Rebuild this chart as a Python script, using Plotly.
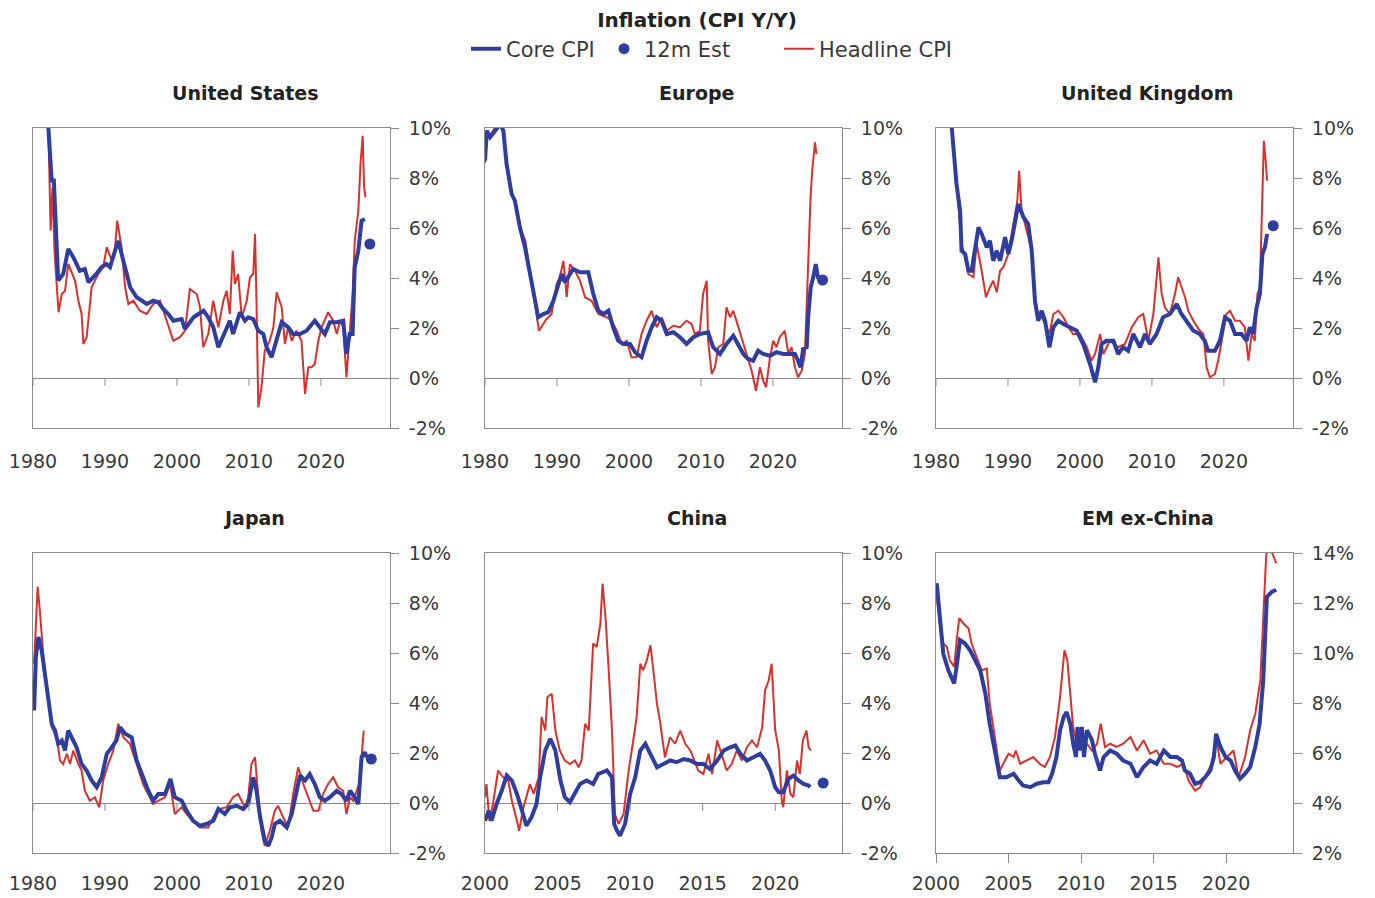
import plotly.graph_objects as go
from plotly.subplots import make_subplots

BLUE = "#2f3e9e"
RED = "#d8312c"
FRAME = "#8c8c8c"
TEXT = "#3a3a3a"
FONT = "DejaVu Sans"

# --- United States -------------------------------------------------------
us_core_x = [1981.7, 1982.3, 1982.6, 1982.9, 1983.3, 1983.5, 1984.2, 1984.9, 1985.6, 1986.5, 1987.2, 1987.7,
             1988.8, 1989.5, 1990.2, 1990.7, 1991.4, 1991.85, 1992.55, 1993.5, 1994.4, 1995.1, 1995.8, 1996.7,
             1997.4, 1998.1, 1998.8, 1999.5, 2000.65, 2001.1, 2001.6, 2002.3, 2003.0, 2003.7, 2004.35, 2005.05,
             2005.75, 2006.45, 2006.9, 2007.35, 2007.8, 2008.3, 2008.75, 2009.45, 2009.9, 2010.6, 2011.3,
             2012.0, 2012.45, 2013.15, 2013.85, 2014.55, 2015.45, 2016.15, 2017.1, 2018.0, 2019.15, 2019.85,
             2020.55, 2021.25, 2022.2, 2023.1, 2023.55, 2024.0, 2024.4, 2024.7, 2025.2, 2025.65, 2026.1]
us_core_y = [12.0, 9.0, 7.9, 7.9, 5.0, 3.9, 4.16, 5.16, 4.83, 4.29, 4.36, 3.83,
             4.16, 4.43, 4.56, 4.43, 5.09, 5.49, 4.69, 3.63, 3.23, 3.09, 2.96, 3.09,
             3.03, 2.76, 2.56, 2.29, 2.36, 1.96, 2.16, 2.43, 2.56, 2.69, 2.43, 2.03,
             1.23, 1.69, 2.03, 2.29, 1.76, 2.23, 2.63, 2.29, 2.43, 2.36, 1.89,
             1.76, 1.23, 0.83, 1.49, 2.23, 2.03, 1.76, 1.76, 1.89, 2.29, 2.03,
             1.76, 2.23, 2.23, 2.29, 0.96, 1.76, 1.76, 4.43, 5.09, 6.29, 6.36]
us_head_x = [1981.7, 1982.1, 1982.45, 1982.7, 1983.0, 1983.55, 1984.0, 1984.45, 1984.9, 1985.85, 1986.3, 1986.75,
             1987.0, 1987.45, 1988.15, 1989.05, 1989.75, 1990.25, 1990.95, 1991.4, 1991.7, 1992.3, 1992.8,
             1993.25, 1993.95, 1994.85, 1995.8, 1996.7, 1997.65, 1998.55, 1999.5, 2000.4, 2001.1, 2001.8,
             2002.75, 2003.2, 2003.65, 2004.35, 2005.05, 2005.75, 2006.45, 2006.9, 2007.35, 2007.75, 2008.05,
             2008.5, 2009.0, 2009.7, 2010.15, 2010.6, 2010.85, 2011.05, 2011.3, 2011.75, 2012.2, 2012.9,
             2013.4, 2013.85, 2014.55, 2015.0, 2015.45, 2015.95, 2016.6, 2017.3, 2017.8, 2018.25, 2018.7,
             2019.15, 2019.65, 2020.1, 2021.0, 2021.7, 2022.2, 2022.65, 2023.1, 2023.55, 2023.95, 2024.4,
             2024.7, 2025.2, 2025.5, 2025.8, 2026.0, 2026.2]
us_head_y = [12.0, 10.5, 5.9, 7.6, 5.0, 2.63, 3.36, 3.49, 4.56, 3.89, 3.09, 2.56,
             1.36, 1.63, 3.63, 4.16, 4.43, 5.23, 4.69, 5.23, 6.29, 5.23, 3.63,
             2.96, 3.09, 2.69, 2.56, 2.96, 3.09, 2.29, 1.49, 1.63, 1.89, 3.56,
             3.36, 2.83, 1.23, 1.76, 3.09, 2.03, 3.09, 3.49, 2.56, 5.09, 3.76,
             4.16, 2.43, 3.09, 4.03, 4.16, 5.76, 3.09, -1.17, -0.37, 1.09, 1.49,
             2.03, 3.43, 2.83, 1.36, 2.03, 1.49, 1.89, 1.49, -0.64, 0.43, 0.43,
             0.56, 1.49, 2.03, 2.63, 2.29, 1.76, 2.29, 2.03, 0.03, 1.76, 3.36,
             5.49, 6.69, 8.56, 9.69, 7.63, 7.23]
us_est_x = [2026.8]
us_est_y = [5.36]

# --- Europe --------------------------------------------------------------
eu_core_x = [1980.0, 1980.25, 1980.7, 1981.15, 1981.6, 1982.1, 1982.55, 1983.0, 1983.7, 1984.15, 1984.85, 1985.55,
             1986.25, 1986.95, 1987.4, 1988.1, 1988.8, 1989.5, 1990.2, 1990.65, 1991.1, 1991.8, 1992.25, 1993.2,
             1994.35, 1995.05, 1995.75, 1996.45, 1997.15, 1997.8, 1998.5, 1999.2, 2000.15, 2000.85, 2001.75,
             2002.45, 2003.15, 2003.85, 2004.55, 2005.25, 2006.15, 2007.1, 2008.0, 2008.95, 2009.85, 2011.0,
             2011.7, 2012.65, 2013.55, 2014.5, 2015.2, 2015.9, 2016.55, 2017.25, 2017.95, 2018.65, 2019.6,
             2020.5, 2021.45, 2022.35, 2023.05, 2023.5, 2023.85, 2024.2, 2024.7, 2024.9, 2025.25, 2025.6,
             2025.95, 2026.3]
eu_core_y = [8.69, 9.89, 9.63, 9.83, 9.96, 10.16, 9.89, 8.56, 7.36, 7.09, 6.03, 5.23,
             4.16, 3.09, 2.43, 2.56, 2.63, 3.09, 3.76, 4.16, 3.83, 4.16, 4.36, 4.23,
             4.23, 3.36, 2.69, 2.56, 2.69, 2.03, 1.49, 1.36, 1.36, 1.03, 0.83,
             1.49, 2.03, 2.43, 2.29, 1.76, 1.83, 1.63, 1.36, 1.63, 1.76, 1.83,
             1.23, 0.96, 1.36, 1.69, 1.36, 0.96, 0.76, 0.69, 1.09, 0.96, 0.89,
             1.03, 0.96, 0.96, 0.96, 0.69, 0.43, 1.16, 1.23, 2.43, 3.63, 4.03,
             4.56, 3.96]
eu_head_x = [1980.0, 1980.2, 1980.7, 1981.2, 1981.6, 1982.1, 1982.5, 1983.0, 1983.7, 1984.2, 1984.9, 1985.6,
             1986.3, 1986.9, 1987.5, 1988.55, 1989.25, 1989.95, 1990.4, 1990.9, 1991.35, 1991.8, 1992.5,
             1993.2, 1993.9, 1994.8, 1995.75, 1996.9, 1997.6, 1998.3, 1999.0, 1999.7, 2000.35, 2001.05,
             2001.75, 2002.45, 2003.15, 2003.85, 2004.55, 2005.25, 2006.15, 2007.1, 2008.0, 2008.7, 2009.15,
             2009.85, 2010.3, 2010.8, 2011.0, 2011.5, 2011.95, 2012.4, 2013.1, 2013.55, 2014.05, 2014.5,
             2015.2, 2015.65, 2016.35, 2017.05, 2017.65, 2018.2, 2018.65, 2019.05, 2019.6, 2020.05, 2020.5,
             2020.95, 2021.65, 2022.15, 2022.6, 2023.05, 2023.5, 2024.0, 2024.45, 2024.9, 2025.25, 2025.5,
             2025.85, 2026.05]
eu_head_y = [8.6, 9.9, 9.7, 9.9, 10.1, 10.2, 9.8, 8.6, 7.4, 7.1, 6.0, 5.5,
             4.2, 3.0, 1.89, 2.36, 2.56, 3.76, 4.03, 4.69, 3.23, 4.56, 4.29,
             3.89, 3.23, 3.09, 2.56, 2.43, 2.29, 1.89, 1.36, 1.49, 0.83, 0.83,
             1.76, 2.29, 2.69, 2.03, 2.43, 1.89, 2.09, 2.03, 2.29, 2.16, 1.76,
             1.89, 3.36, 3.89, 1.49, 0.16, 0.43, 1.23, 1.36, 2.83, 2.43, 2.69,
             2.03, 1.63, 0.96, 0.29, -0.51, 0.43, -0.11, -0.37, 0.83, 1.49, 1.23,
             1.63, 1.89, 0.96, 1.23, 0.43, 0.03, 0.29, 0.96, 4.69, 7.36, 8.43,
             9.43, 8.96]
eu_est_x = [2026.9]
eu_est_y = [3.92]

# --- United Kingdom ------------------------------------------------------
uk_core_x = [1981.9, 1982.2, 1982.4, 1982.85, 1983.35, 1983.55, 1984.05, 1984.5, 1984.95, 1985.4, 1985.9, 1986.35,
             1987.05, 1987.5, 1987.95, 1988.45, 1988.9, 1989.6, 1990.05, 1990.5, 1990.95, 1991.45, 1992.15,
             1992.8, 1993.3, 1993.75, 1994.2, 1994.7, 1995.15, 1995.75, 1996.3, 1997.0, 1997.7, 1998.6, 1999.55,
             2000.45, 2001.4, 2002.1, 2002.55, 2003.0, 2003.7, 2004.65, 2005.3, 2006.0, 2006.7, 2007.4, 2008.35,
             2009.05, 2009.7, 2010.65, 2011.55, 2012.5, 2013.45, 2014.1, 2014.8, 2015.75, 2016.65, 2017.35,
             2017.8, 2018.75, 2019.45, 2020.15, 2020.85, 2021.55, 2022.45, 2023.15, 2023.6, 2024.05, 2024.55,
             2025.0, 2025.35, 2025.7, 2026.0]
uk_core_y = [11.0, 9.97, 8.96, 7.76, 6.69, 5.09, 4.96, 4.29, 4.29, 5.09, 6.03, 5.76,
             5.23, 5.49, 4.69, 5.09, 4.69, 5.63, 4.96, 5.49, 6.16, 6.96, 6.43,
             6.16, 5.09, 3.09, 2.29, 2.69, 2.29, 1.23, 2.03, 2.29, 2.16, 2.03, 1.89,
             1.36, 0.56, -0.17, 0.43, 1.36, 1.49, 1.49, 0.96, 1.23, 1.09, 1.76, 1.23,
             1.76, 1.36, 1.76, 2.43, 2.56, 2.96, 2.56, 2.29, 1.89, 1.76, 1.49,
             1.09, 1.09, 1.49, 2.43, 2.29, 1.76, 1.76, 1.49, 2.03, 1.76, 2.83,
             3.36, 4.96, 5.23, 5.76]
uk_head_x = [1981.9, 1982.2, 1982.4, 1982.85, 1983.55, 1984.05, 1984.5, 1985.2, 1985.65, 1986.35, 1986.95, 1987.5,
             1987.95, 1988.45, 1988.9, 1989.35, 1990.05, 1990.75, 1991.3, 1991.55, 1991.9, 1992.6, 1993.3,
             1993.75, 1994.45, 1995.15, 1995.75, 1996.3, 1997.0, 1997.7, 1998.4, 1999.05, 2000.0, 2000.95,
             2001.6, 2002.1, 2002.8, 2003.25, 2004.15, 2005.3, 2006.25, 2007.2, 2008.1, 2008.8, 2009.5,
             2010.2, 2010.9, 2011.35, 2011.8, 2012.5, 2013.2, 2013.65, 2014.1, 2014.6, 2015.05, 2015.75,
             2016.65, 2017.15, 2017.6, 2018.05, 2018.75, 2019.2, 2019.7, 2020.35, 2020.85, 2021.55, 2022.2,
             2022.9, 2023.4, 2023.85, 2024.3, 2024.65, 2025.0, 2025.25, 2025.55, 2025.8, 2026.0]
uk_head_y = [11.0, 10.0, 9.36, 7.76, 5.36, 4.83, 4.16, 4.03, 5.36, 4.29, 3.23, 3.63,
             3.89, 3.43, 4.29, 4.43, 4.96, 6.16, 7.09, 8.29, 6.69, 5.89, 5.09,
             2.83, 2.56, 2.16, 1.76, 2.56, 2.69, 2.43, 2.03, 1.76, 1.76, 1.23,
             0.69, 0.96, 1.76, 0.96, 1.49, 1.23, 1.36, 2.03, 2.43, 2.56, 1.49,
             2.56, 4.83, 3.36, 2.83, 2.56, 3.36, 4.03, 3.63, 3.23, 2.69, 2.29,
             1.89, 1.76, 0.43, 0.03, 0.16, 0.69, 1.49, 2.56, 2.69, 2.29, 2.29,
             2.03, 0.69, 1.76, 1.49, 3.36, 3.63, 6.29, 9.49, 8.69, 7.89]
uk_est_x = [2026.85]
uk_est_y = [6.09]

# --- Japan ---------------------------------------------------------------
jp_core_x = [1980.15, 1980.4, 1980.75, 1981.2, 1981.65, 1982.15, 1982.6, 1983.05, 1983.5, 1984.0, 1984.45, 1984.9,
             1985.35, 1986.05, 1986.75, 1987.45, 1988.15, 1988.85, 1989.55, 1990.25, 1990.95, 1991.6, 1992.1,
             1992.8, 1993.7, 1994.4, 1995.3, 1996.0, 1996.7, 1997.4, 1998.35, 1999.1, 1999.7, 2000.65, 2001.35,
             2002.25, 2003.2, 2004.1, 2005.05, 2005.75, 2006.65, 2007.35, 2008.3, 2009.2, 2009.9, 2010.6,
             2011.05, 2011.55, 2012.2, 2012.7, 2013.15, 2013.6, 2014.3, 2015.25, 2015.95, 2016.6, 2017.1,
             2017.8, 2018.45, 2019.15, 2019.85, 2020.55, 2021.25, 2022.2, 2022.85, 2023.55, 2024.05, 2024.7,
             2025.2, 2025.65, 2026.1, 2026.35]
jp_core_y = [3.7, 5.84, 6.64, 6.11, 5.17, 4.24, 3.17, 2.9, 2.37, 2.5, 2.1, 2.9,
             2.63, 2.23, 1.56, 1.3, 0.9, 0.63, 1.03, 1.97, 2.23, 2.5, 3.03,
             2.77, 2.63, 1.7, 1.03, 0.5, 0.09, 0.36, 0.36, 0.96, 0.23, 0.09, -0.31,
             -0.71, -0.91, -0.84, -0.71, -0.24, -0.44, -0.17, -0.11, -0.24, -0.04, 1.03,
             0.49, -0.57, -1.51, -1.71, -1.38, -0.84, -0.71, -0.98, -0.44, 0.49, 1.1,
             0.9, 1.16, 0.76, 0.23, 0.09, 0.23, 0.49, 0.36, 0.09, 0.49, 0.23,
             -0.04, 1.83, 2.03, 1.83]
jp_head_x = [1980.15, 1980.5, 1980.65, 1980.95, 1981.45, 1981.9, 1982.6, 1983.3, 1983.75, 1984.2, 1984.7, 1985.15,
             1985.6, 1986.3, 1986.75, 1987.2, 1987.9, 1988.6, 1989.2, 1989.75, 1990.45, 1991.15, 1991.85,
             1992.55, 1993.45, 1994.4, 1995.3, 1996.0, 1996.7, 1997.4, 1998.35, 1999.05, 1999.7, 2000.65,
             2001.35, 2002.25, 2003.2, 2004.35, 2005.05, 2005.95, 2006.9, 2007.8, 2008.5, 2009.45, 2009.9,
             2010.35, 2010.85, 2011.15, 2011.75, 2012.2, 2012.9, 2013.6, 2014.05, 2014.75, 2015.45, 2016.15,
             2016.85, 2017.55, 2018.25, 2018.95, 2019.65, 2020.3, 2021.0, 2021.7, 2022.4, 2023.1, 2023.55,
             2024.05, 2024.5, 2024.95, 2025.3, 2025.65, 2025.95]
jp_head_y = [5.57, 7.98, 8.65, 7.71, 5.84, 4.77, 3.03, 2.63, 1.7, 1.56, 1.97, 1.56,
             2.1, 1.56, 1.3, 0.49, 0.09, 0.23, -0.17, 0.9, 1.56, 2.1, 3.17,
             2.63, 2.37, 1.56, 0.76, 0.36, -0.04, 0.09, 0.23, 0.76, -0.44, -0.17,
             -0.44, -0.71, -0.98, -0.98, -0.57, -0.24, -0.17, 0.23, 0.36, -0.17, 0.23,
             1.56, 1.83, 0.76, -1.11, -1.71, -1.11, -0.31, -0.11, -0.57, -0.98, 0.36,
             1.43, 0.76, 0.23, -0.31, -0.31, 0.36, 0.76, 1.03, 0.63, 0.49, -0.44,
             0.23, 0.09, 0.49, 0.76, 1.83, 2.9]
jp_est_x = [2027.0]
jp_est_y = [1.76]

# --- China ---------------------------------------------------------------
cn_core_x = [2000.0, 2000.25, 2000.45, 2000.8, 2001.15, 2001.5, 2001.85, 2002.2, 2002.55, 2002.85, 2003.2, 2003.55,
             2003.8, 2004.15, 2004.5, 2004.85, 2005.2, 2005.5, 2005.85, 2006.2, 2006.55, 2007.0, 2007.45, 2007.8,
             2008.4, 2008.75, 2008.9, 2009.1, 2009.3, 2009.65, 2010.0, 2010.35, 2010.7, 2011.05, 2011.4, 2011.85,
             2012.3, 2012.75, 2013.2, 2013.7, 2014.15, 2014.6, 2015.05, 2015.5, 2016.0, 2016.45, 2016.9, 2017.25,
             2017.6, 2018.05, 2018.5, 2018.95, 2019.3, 2019.65, 2020.0, 2020.25, 2020.55, 2020.9, 2021.25,
             2021.6, 2021.95, 2022.3, 2022.4]
cn_core_y = [-0.71, -0.31, -0.71, -0.04, 0.49, 1.1, 0.9, 0.36, -0.31, -0.91, -0.57, -0.04,
             1.03, 2.1, 2.57, 2.1, 0.9, 0.23, 0.03, 0.36, 0.76, 0.9, 0.76, 1.16,
             1.3, 1.03, -0.84, -1.11, -1.31, -0.84, 0.36, 1.03, 2.1, 2.37, 1.97, 1.43,
             1.56, 1.7, 1.63, 1.76, 1.7, 1.56, 1.56, 1.36, 1.7, 2.1, 2.23, 2.3,
             1.97, 1.7, 1.83, 1.97, 1.7, 1.3, 0.63, 0.43, 0.43, 0.96, 1.1,
             0.9, 0.76, 0.7, 0.63]
cn_head_x = [2000.0, 2000.1, 2000.3, 2000.55, 2000.9, 2001.25, 2001.6, 2001.85, 2002.2, 2002.35, 2002.65, 2003.1,
             2003.35, 2003.7, 2003.9, 2004.15, 2004.3, 2004.6, 2004.85, 2005.15, 2005.5, 2005.85, 2006.2,
             2006.45, 2006.65, 2006.9, 2007.15, 2007.45, 2007.7, 2007.95, 2008.1, 2008.3, 2008.5, 2008.75,
             2008.95, 2009.2, 2009.55, 2009.9, 2010.25, 2010.45, 2010.7, 2010.9, 2011.15, 2011.4, 2011.6,
             2011.85, 2012.05, 2012.4, 2012.75, 2013.1, 2013.45, 2013.8, 2014.15, 2014.35, 2014.7, 2015.05,
             2015.4, 2015.65, 2016.0, 2016.3, 2016.65, 2017.0, 2017.35, 2017.7, 2018.05, 2018.4, 2018.75,
             2019.1, 2019.3, 2019.55, 2019.75, 2020.0, 2020.25, 2020.45, 2020.55, 2020.8, 2021.05, 2021.25,
             2021.5, 2021.7, 2021.9, 2022.15, 2022.3, 2022.45]
cn_head_y = [0.23, 0.76, -0.71, -0.04, 1.3, 1.03, 0.9, 0.09, -0.71, -1.11, -0.17, 0.76,
             0.36, 1.03, 3.44, 2.9, 4.24, 4.37, 2.9, 2.1, 1.7, 1.56, 1.7,
             1.43, 1.7, 3.17, 2.9, 6.38, 6.24, 7.18, 8.78, 7.45, 5.57, 2.9,
             -0.44, -0.84, -0.44, 1.3, 2.63, 3.44, 5.57, 5.31, 5.71, 6.31, 5.31,
             3.97, 3.3, 1.83, 2.63, 2.37, 2.9, 2.37, 2.1, 1.83, 1.3, 1.16,
             1.97, 1.16, 2.5, 1.97, 1.3, 1.56, 2.1, 1.7, 2.23, 2.5, 2.23,
             3.03, 4.51, 4.91, 5.57, 2.9, 2.1, 0.09, -0.17, 1.3, 0.36, 0.23,
             1.7, 1.16, 2.5, 2.9, 2.23, 2.1]
cn_est_x = [2023.3]
cn_est_y = [0.8]

# --- EM ex-China ---------------------------------------------------------
em_core_x = [2000.05, 2000.3, 2000.5, 2000.85, 2001.1, 2001.25, 2001.45, 2001.65, 2002.0, 2002.35, 2002.7, 2003.05,
             2003.4, 2003.7, 2004.05, 2004.4, 2004.85, 2005.35, 2005.7, 2006.0, 2006.5, 2006.95, 2007.4, 2007.75,
             2008.0, 2008.3, 2008.55, 2008.8, 2009.0, 2009.25, 2009.45, 2009.65, 2009.75, 2009.9, 2010.05,
             2010.2, 2010.4, 2010.75, 2010.95, 2011.3, 2011.55, 2012.0, 2012.45, 2012.9, 2013.4, 2013.85,
             2014.3, 2014.75, 2015.2, 2015.7, 2016.15, 2016.6, 2016.95, 2017.15, 2017.5, 2017.85, 2018.2,
             2018.55, 2018.9, 2019.15, 2019.3, 2019.6, 2019.95, 2020.3, 2020.6, 2020.95, 2021.3, 2021.65,
             2022.0, 2022.3, 2022.55, 2022.7, 2022.8, 2023.15, 2023.45]
em_core_y = [12.79, 11.32, 9.98, 9.31, 8.91, 8.78, 9.58, 10.52, 10.38, 10.11, 9.71, 9.31,
             8.38, 7.17, 6.1, 5.03, 5.03, 5.17, 4.9, 4.7, 4.63, 4.77, 4.83, 4.83,
             5.17, 5.84, 6.91, 7.44, 7.64, 7.17, 6.37, 5.84, 7.04, 6.1, 7.04,
             5.84, 6.91, 6.51, 5.97, 5.3, 5.84, 6.1, 5.97, 5.7, 5.57, 5.03,
             5.44, 5.7, 5.57, 6.1, 5.84, 5.84, 5.7, 5.3, 5.17, 4.77, 4.83,
             5.03, 5.3, 5.84, 6.77, 6.24, 5.84, 5.7, 5.3, 4.97, 5.17, 5.44,
             6.24, 7.17, 8.91, 10.92, 12.25, 12.45, 12.52]
em_head_x = [2000.05, 2000.3, 2000.5, 2000.75, 2000.95, 2001.25, 2001.45, 2001.6, 2001.9, 2002.25, 2002.45, 2002.8,
             2003.15, 2003.5, 2003.7, 2004.05, 2004.4, 2004.75, 2005.0, 2005.35, 2005.5, 2005.8, 2006.25,
             2006.7, 2007.15, 2007.5, 2007.85, 2008.2, 2008.55, 2008.85, 2009.05, 2009.25, 2009.45, 2009.7,
             2010.05, 2010.4, 2010.75, 2011.1, 2011.35, 2011.65, 2012.0, 2012.45, 2012.9, 2013.4, 2013.85,
             2014.3, 2014.75, 2015.2, 2015.7, 2016.15, 2016.6, 2017.05, 2017.4, 2017.85, 2018.2, 2018.65,
             2019.0, 2019.3, 2019.6, 2020.05, 2020.5, 2020.85, 2021.3, 2021.65, 2022.0, 2022.35, 2022.55,
             2022.75, 2022.9, 2023.15, 2023.45]
em_head_y = [12.25, 10.92, 10.38, 10.25, 9.71, 9.45, 10.65, 11.39, 11.18, 10.98, 10.38, 9.85,
             9.31, 9.38, 7.98, 6.64, 5.3, 5.7, 5.97, 5.84, 6.1, 5.57, 5.7,
             5.84, 5.57, 5.44, 5.84, 6.64, 8.24, 10.11, 9.71, 8.24, 7.04, 6.37,
             6.64, 6.37, 6.1, 6.37, 7.17, 6.24, 6.37, 6.24, 6.37, 6.64, 6.1,
             6.51, 5.97, 6.1, 5.57, 5.57, 5.44, 5.57, 4.9, 4.5, 4.63, 5.17,
             5.57, 6.64, 5.57, 5.84, 6.1, 5.03, 5.84, 6.91, 7.57, 8.91, 11.18,
             13.86, 14.39, 13.99, 13.59]

decade_ticks = [1980, 1990, 2000, 2010, 2020]
five_year_ticks = [2000, 2005, 2010, 2015, 2020]
pct_ticks = [-2, 0, 2, 4, 6, 8, 10]
em_pct_ticks = [2, 4, 6, 8, 10, 12, 14]

panels = [
    dict(name="United States", core=(us_core_x, us_core_y), head=(us_head_x, us_head_y), est=(us_est_x, us_est_y),
         xr=[1980, 2029.6], xt=decade_ticks, yt=pct_ticks, title_x=245),
    dict(name="Europe", core=(eu_core_x, eu_core_y), head=(eu_head_x, eu_head_y), est=(eu_est_x, eu_est_y),
         xr=[1980, 2029.6], xt=decade_ticks, yt=pct_ticks, title_x=696),
    dict(name="United Kingdom", core=(uk_core_x, uk_core_y), head=(uk_head_x, uk_head_y), est=(uk_est_x, uk_est_y),
         xr=[1980, 2029.6], xt=decade_ticks, yt=pct_ticks, title_x=1147),
    dict(name="Japan", core=(jp_core_x, jp_core_y), head=(jp_head_x, jp_head_y), est=(jp_est_x, jp_est_y),
         xr=[1980, 2029.6], xt=decade_ticks, yt=pct_ticks, title_x=254),
    dict(name="China", core=(cn_core_x, cn_core_y), head=(cn_head_x, cn_head_y), est=(cn_est_x, cn_est_y),
         xr=[2000, 2024.6], xt=five_year_ticks, yt=pct_ticks, title_x=697),
    dict(name="EM ex-China", core=(em_core_x, em_core_y), head=(em_head_x, em_head_y), est=None,
         xr=[2000, 2024.6], xt=five_year_ticks, yt=em_pct_ticks, title_x=1148),
]

# the page body adds an 8px margin, so layout is given in screen pixels and shifted
PAD = 8
W, H = 1375 - PAD, 898 - PAD
col_px = [(33, 390), (485, 842), (936, 1293)]
row_px = [(128, 428), (553, 853)]
title_y = [93, 518]
label_gap = [16, 13]


def px_x(x):
    return (x - PAD) / W


def px_y(y):
    return 1 - (y - PAD) / H


fig = make_subplots(rows=2, cols=3)

for i, p in enumerate(panels):
    r, c = i // 3 + 1, i % 3 + 1
    first = i == 0
    fig.add_trace(go.Scatter(x=p["head"][0], y=p["head"][1], mode="lines", name="Headline CPI",
                             line=dict(color=RED, width=2), showlegend=first, legend="legend2",
                             legendgroup="head", hoverinfo="skip"), row=r, col=c)
    fig.add_trace(go.Scatter(x=p["core"][0], y=p["core"][1], mode="lines", name="Core CPI",
                             line=dict(color=BLUE, width=4), legendrank=1, showlegend=first,
                             legendgroup="core", hoverinfo="skip"), row=r, col=c)
    if p["est"] is not None:
        fig.add_trace(go.Scatter(x=p["est"][0], y=p["est"][1], mode="markers", name="12m Est",
                                 marker=dict(color=BLUE, size=11), legendrank=2, showlegend=first,
                                 legendgroup="est", hoverinfo="skip"), row=r, col=c)

    x0, x1 = col_px[c - 1]
    top, bot = row_px[r - 1]
    zero_inside = p["yt"][0] < 0
    gap = label_gap[r - 1]
    fig.update_xaxes(row=r, col=c, domain=[px_x(x0), px_x(x1)], range=p["xr"], tickvals=p["xt"],
                     showgrid=False, zeroline=False, showline=True, mirror=True, linecolor=FRAME,
                     linewidth=1, ticks="" if zero_inside else "outside", ticklen=9, tickcolor=FRAME,
                     ticklabelstandoff=gap if zero_inside else gap - 9,
                     tickfont=dict(family=FONT, size=19, color=TEXT), automargin=False)
    fig.update_yaxes(row=r, col=c, domain=[px_y(bot), px_y(top)], range=[p["yt"][0], p["yt"][-1]],
                     tickvals=p["yt"], ticktext=[f"{v}%" for v in p["yt"]], side="right", showgrid=False,
                     zeroline=zero_inside, zerolinecolor=FRAME, zerolinewidth=1,
                     showline=True, mirror=True, linecolor=FRAME, linewidth=1,
                     ticks="outside", ticklen=8, tickcolor=FRAME, ticklabelstandoff=6,
                     tickfont=dict(family=FONT, size=19, color=TEXT), automargin=False)
    if zero_inside:
        for tv in p["xt"]:
            fig.add_shape(type="line", x0=tv, x1=tv, y0=0, y1=-8, ysizemode="pixel", yanchor=0,
                          line=dict(color=FRAME, width=1), row=r, col=c)
    fig.add_annotation(text=f"<b>{p['name']}</b>", x=px_x(p["title_x"]), y=px_y(title_y[r - 1]),
                       xref="paper", yref="paper", xanchor="center", yanchor="middle", showarrow=False,
                       font=dict(family=FONT, size=19, color="#222222"))

legend_style = dict(orientation="h", yanchor="middle", y=px_y(49), xanchor="left",
                    font=dict(family=FONT, size=21, color=TEXT), bgcolor="rgba(0,0,0,0)")

fig.update_layout(
    width=W, height=H,
    margin=dict(l=0, r=0, t=0, b=0),
    paper_bgcolor="white", plot_bgcolor="white",
    title=dict(text="<b>Inflation (CPI Y/Y)</b>", x=px_x(697), y=px_y(20), xanchor="center", yanchor="middle",
               font=dict(family=FONT, size=20, color="#222222")),
    legend=dict(legend_style, x=px_x(466), entrywidth=93, entrywidthmode="pixels"),
    legend2=dict(legend_style, x=px_x(779)),
    showlegend=True,
)

fig.write_html("out.html")
